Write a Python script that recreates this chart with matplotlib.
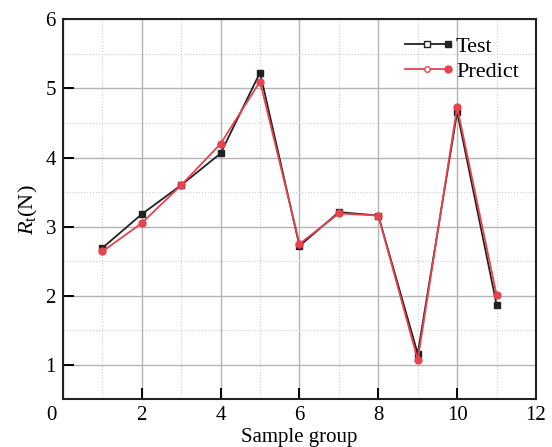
import matplotlib
matplotlib.use("Agg")
import matplotlib.pyplot as plt
import matplotlib.transforms as mtransforms
from matplotlib.ticker import MultipleLocator
from matplotlib.legend_handler import HandlerBase
from matplotlib.lines import Line2D

plt.rcParams['font.family'] = ['Liberation Serif', 'DejaVu Serif']
plt.rcParams['mathtext.fontset'] = 'custom'
plt.rcParams['mathtext.rm'] = 'Liberation Serif'
plt.rcParams['mathtext.it'] = 'Liberation Serif:italic'

# 样本组与数据
groups = [1, 2, 3, 4, 5, 6, 7, 8, 9, 10, 11]
test = [2.69, 3.18, 3.60, 4.06, 5.23, 2.72, 3.21, 3.16, 1.16, 4.66, 1.87]
predict = [2.64, 3.05, 3.60, 4.20, 5.10, 2.75, 3.19, 3.16, 1.07, 4.73, 2.01]
xticks = [0, 2, 4, 6, 8, 10, 12]
yticks = [1, 2, 3, 4, 5, 6]


# Origin风格的图例：中间空心点，末端实心点
class OriginHandler(HandlerBase):
    def create_artists(self, legend, orig_handle, xdescent, ydescent,
                       width, height, fontsize, trans):
        c = orig_handle.get_color()
        m = orig_handle.get_marker()
        ms = orig_handle.get_markersize()
        y = height / 2 - ydescent
        x0 = -xdescent
        x1 = width - xdescent
        ln = Line2D([x0, x1], [y, y], color=c, lw=orig_handle.get_linewidth())
        m1 = Line2D([(x0 + x1) / 2], [y], marker=m, ms=ms - 1, mfc='white', mec=c, mew=1.0, ls='none')
        m2 = Line2D([x1], [y], marker=m, ms=ms, mfc=c, mec=c, ls='none')
        for a in (ln, m1, m2):
            a.set_transform(trans)
        return [ln, m1, m2]


fig = plt.figure(figsize=(5.52, 4.47), dpi=100)
ax = fig.add_axes([0.114, 0.1067, 0.857, 0.850])

l1, = ax.plot(groups, test, color='#222222', lw=1.3, marker='s', ms=5, label='Test', zorder=3)
l2, = ax.plot(groups, predict, color='#e8424f', lw=1.3, marker='o', ms=5, label='Predict', zorder=4)

ax.set_xlim(0, 12)
ax.set_ylim(0.5, 6)
ax.set_xticks(xticks)
ax.set_yticks(yticks)
ax.xaxis.set_minor_locator(MultipleLocator(1))
ax.yaxis.set_minor_locator(MultipleLocator(0.5))
ax.grid(which='major', color='#b4b4b4', lw=1.0, ls='-')
ax.grid(which='minor', color='#cccccc', lw=0.8, ls=':')
ax.set_axisbelow(True)

ax.tick_params(which='major', direction='in', length=8, width=1.4, labelsize=15,
               top=False, right=False, pad=5)
ax.tick_params(which='minor', length=0)
for s in ax.spines.values():
    s.set_linewidth(1.5)
    s.set_color('#222222')

# x轴的0标签左移
off = mtransforms.ScaledTranslation(-11 / 100, 0, fig.dpi_scale_trans)
lab0 = ax.get_xticklabels()[0]
lab0.set_transform(lab0.get_transform() + off)

ax.set_xlabel('Sample group', fontsize=15, labelpad=2)
ax.set_ylabel(r'$R_{\rm t}$(N)', fontsize=16, labelpad=4)

ax.legend(handles=[l1, l2], loc='upper right', fontsize=16, frameon=False,
          handler_map={Line2D: OriginHandler()},
          handlelength=1.95, handletextpad=0.35, labelspacing=0.2,
          bbox_to_anchor=(1.006, 1.007))

plt.savefig('out.png', dpi=100)
